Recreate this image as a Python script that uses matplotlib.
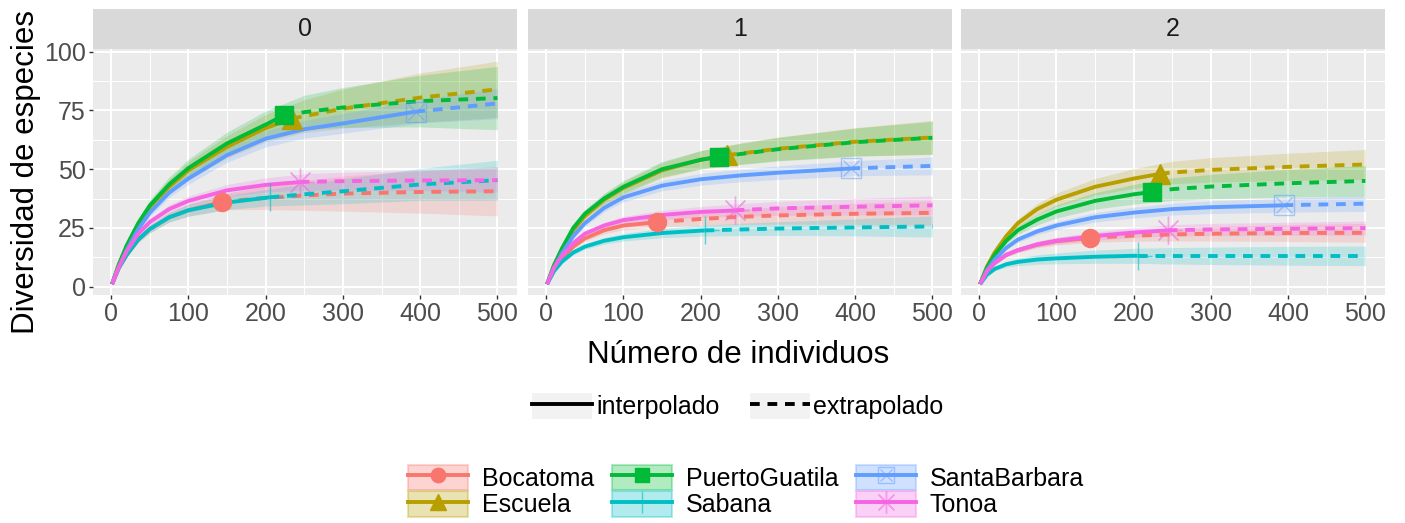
import matplotlib
matplotlib.use("Agg")
import matplotlib.pyplot as plt
from matplotlib.patches import Patch
from matplotlib.lines import Line2D
import numpy as np

plt.rcParams['font.family'] = ['Liberation Sans', 'DejaVu Sans']

# sample sizes (m) where the curves were read
X = [1, 10, 20, 35, 50, 75, 100, 150, 200, 250, 300, 400, 500]

sites = ["Bocatoma", "Escuela", "PuertoGuatila", "Sabana", "SantaBarbara", "Tonoa"]
colors = ["#F8766D", "#B79F00", "#00BA38", "#00BFC4", "#619CFF", "#F564E3"]

# reference sample size of each site
n_ref = [143, 234, 224, 205, 394, 244]

# observed diversity at n_ref, one list per order q
obs_q0 = [36, 71.5, 73, 38, 74.5, 44.5]
obs_q1 = [27.4, 56, 55.3, 23.9, 50.3, 32.4]
obs_q2 = [20.7, 48, 40.3, 13.1, 34.6, 23.9]

# estimated curves at X (q = 0)
est_q0 = {
    "Bocatoma":      [1, 8, 13.5, 20, 24.5, 29.5, 32.5, 36.3, 37.8, 38.8, 39.6, 40.3, 40.6],
    "Escuela":       [1, 9.5, 17, 26.5, 34, 42.5, 49.5, 59.5, 67.5, 72.6, 75.8, 80.5, 84],
    "PuertoGuatila": [1, 9.5, 17.5, 27, 34.5, 43.5, 50.5, 61, 69, 74.3, 76.3, 79, 80.3],
    "Sabana":        [1, 8, 13.5, 20, 24.5, 29.5, 32.5, 35.8, 37.8, 39.3, 40.6, 43.5, 45.3],
    "SantaBarbara":  [1, 8.5, 15.5, 24.5, 31.5, 40, 46, 56, 63, 67, 69.5, 74.7, 78],
    "Tonoa":         [1, 8.5, 15, 22.5, 27.5, 33, 36.5, 41, 43.3, 44.6, 44.9, 45.2, 45.3],
}
ci_q0 = {
    "Bocatoma":      [0, 0.4, 0.8, 1.2, 1.6, 2, 2.5, 3.5, 5, 6.3, 7.5, 9, 10.5],
    "Escuela":       [0, 0.6, 1.2, 2, 2.5, 3.2, 3.8, 4.8, 5.8, 7, 8.3, 10.5, 12],
    "PuertoGuatila": [0, 0.6, 1.2, 2, 2.5, 3.2, 3.8, 4.8, 5.8, 7.2, 8.5, 11, 13.5],
    "Sabana":        [0, 0.4, 0.8, 1.2, 1.6, 2, 2.5, 3, 3.5, 4.5, 5.3, 6.8, 8.5],
    "SantaBarbara":  [0, 0.4, 0.8, 1.2, 1.6, 2, 2.4, 3, 3.5, 3.8, 4.2, 5, 6.5],
    "Tonoa":         [0, 0.4, 0.8, 1.2, 1.5, 1.8, 2, 2.5, 3, 3.5, 3.8, 4.3, 5],
}

# q = 1
est_q1 = {
    "Bocatoma":      [1, 7.5, 12, 17, 20.5, 24, 26, 27.6, 28.8, 29.7, 30.3, 31, 31.4],
    "Escuela":       [1, 9, 15.5, 24, 30, 37, 42, 49.5, 54, 56.6, 58.7, 61.7, 63.5],
    "PuertoGuatila": [1, 9, 16, 25, 31, 37.5, 42.5, 50, 54, 56.4, 58.5, 61.5, 63.4],
    "Sabana":        [1, 6.5, 10.5, 14.5, 17, 19.5, 21, 22.8, 23.8, 24.3, 24.7, 25.2, 25.6],
    "SantaBarbara":  [1, 8, 14, 21.5, 27, 33.5, 38, 43, 45.7, 47.3, 48.5, 50.4, 51.4],
    "Tonoa":         [1, 8, 13, 18.5, 22.5, 26, 28.3, 30.5, 31.8, 32.6, 33.3, 34, 34.6],
}
ci_q1 = {
    "Bocatoma":      [0, 0.3, 0.6, 0.9, 1.2, 1.5, 1.8, 2.2, 2.7, 3.2, 3.7, 4.5, 5.2],
    "Escuela":       [0, 0.5, 0.9, 1.4, 1.8, 2.3, 2.7, 3.3, 3.9, 4.5, 5, 6, 7.3],
    "PuertoGuatila": [0, 0.5, 0.9, 1.4, 1.8, 2.3, 2.7, 3.3, 3.9, 4.5, 5, 6, 7],
    "Sabana":        [0, 0.3, 0.6, 0.9, 1.1, 1.4, 1.6, 2, 2.3, 2.6, 2.9, 3.6, 4.5],
    "SantaBarbara":  [0, 0.4, 0.7, 1, 1.3, 1.6, 1.9, 2.2, 2.5, 2.7, 2.9, 3.2, 3.8],
    "Tonoa":         [0, 0.3, 0.6, 0.9, 1.1, 1.4, 1.6, 2, 2.3, 2.7, 3, 3.5, 4],
}

# q = 2
est_q2 = {
    "Bocatoma":      [1, 6.5, 10, 13.5, 15.5, 17.8, 19.3, 20.9, 21.7, 22.2, 22.5, 22.8, 22.9],
    "Escuela":       [1, 8.5, 14.5, 21.5, 27, 33, 37, 42.5, 46, 48.6, 49.7, 51, 52],
    "PuertoGuatila": [1, 8, 13.5, 19.5, 24, 28.5, 32, 36.5, 39.3, 41.5, 42.6, 44, 45],
    "Sabana":        [1, 5, 7.5, 9.5, 10.5, 11.5, 12, 12.7, 13.1, 13.1, 13.1, 13.1, 13.1],
    "SantaBarbara":  [1, 7, 11.5, 16.5, 20, 23.5, 26, 29.5, 31.5, 33, 33.8, 34.7, 35.3],
    "Tonoa":         [1, 6.5, 10, 13.5, 15.5, 18, 19.5, 21.5, 23, 24, 24.3, 24.6, 24.9],
}
ci_q2 = {
    "Bocatoma":      [0, 0.3, 0.5, 0.8, 1, 1.3, 1.6, 2, 2.4, 2.8, 3.1, 3.6, 4],
    "Escuela":       [0, 0.5, 0.9, 1.4, 1.8, 2.3, 2.8, 3.5, 4.2, 4.8, 5.2, 5.8, 6.4],
    "PuertoGuatila": [0, 0.5, 0.9, 1.4, 1.8, 2.3, 2.8, 3.5, 4.2, 4.8, 5.2, 5.9, 6.5],
    "Sabana":        [0, 0.4, 0.8, 1.2, 1.6, 2, 2.3, 2.8, 3.2, 3.5, 3.7, 4, 4.2],
    "SantaBarbara":  [0, 0.3, 0.6, 0.9, 1.2, 1.4, 1.7, 2, 2.3, 2.5, 2.7, 3, 3.3],
    "Tonoa":         [0, 0.3, 0.5, 0.8, 1, 1.2, 1.5, 1.8, 2.1, 2.4, 2.6, 2.8, 3],
}

orders = ["0", "1", "2"]
est_all = [est_q0, est_q1, est_q2]
ci_all = [ci_q0, ci_q1, ci_q2]
obs_all = [obs_q0, obs_q1, obs_q2]

# marker styles (ggplot shapes 16, 17, 15, 3, 7, 8)
markers = [
    [dict(marker='o', ms=13)],
    [dict(marker='^', ms=15)],
    [dict(marker='s', ms=13)],
    [dict(marker='+', ms=20, mew=1.0, alpha=0.6)],
    [dict(marker='s', ms=15, mfc='none', mew=1.0, alpha=0.5),
     dict(marker='x', ms=11, mew=1.0, alpha=0.5)],
    [dict(marker=(8, 2, 0), ms=20, mew=1.0, alpha=0.5)],
]

W, H = 1405, 523
fig = plt.figure(figsize=(W / 100, H / 100), dpi=100)

lefts = [92.7, 527.7, 960.7]
pw = 424
bot, top, strip_top = 295, 49, 8.5
LW = 2.8
DASH = (2.5, 2.0)

for k, q in enumerate(orders):
    ax = fig.add_axes([lefts[k] / W, 1 - bot / H, pw / W, (bot - top) / H])
    ax.set_facecolor('#EBEBEB')
    for s in ax.spines.values():
        s.set_visible(False)
    ax.set_xlim(-24, 525)
    ax.set_ylim(-3.6, 101.2)
    ax.set_xticks([0, 100, 200, 300, 400, 500])
    ax.set_yticks([0, 25, 50, 75, 100])
    ax.set_xticks([50, 150, 250, 350, 450], minor=True)
    ax.set_yticks([12.5, 37.5, 62.5, 87.5], minor=True)
    ax.grid(which='major', color='white', lw=1.4)
    ax.grid(which='minor', color='white', lw=0.7)
    ax.set_axisbelow(True)
    ax.tick_params(which='minor', length=0)
    ax.tick_params(which='major', length=3, width=1, color='#333333',
                   labelsize=18, labelcolor='#4D4D4D', pad=2)
    if k > 0:
        ax.tick_params(axis='y', left=False, labelleft=False)

    est, ci, obs = est_all[k], ci_all[k], obs_all[k]
    for i, site in enumerate(sites):
        c = colors[i]
        e = np.array(est[site])
        w = np.array(ci[site])
        ax.fill_between(X, e - w, e + w, color=c, alpha=0.2, lw=0, zorder=1)
    for i, site in enumerate(sites):
        c = colors[i]
        n = n_ref[i]
        e = est[site]
        pre = [j for j, x in enumerate(X) if x < n]
        post = [j for j, x in enumerate(X) if x > n]
        ax.plot([X[j] for j in pre] + [n], [e[j] for j in pre] + [obs[i]],
                color=c, lw=LW, solid_capstyle='butt', zorder=3)
        ax.plot([n] + [X[j] for j in post], [obs[i]] + [e[j] for j in post],
                color=c, lw=LW, dashes=DASH, zorder=3)
        for m in markers[i]:
            ax.plot([n], [obs[i]], color=c, ls='none', zorder=4, **m)

    sax = fig.add_axes([lefts[k] / W, 1 - top / H, pw / W, (top - strip_top) / H])
    sax.set_facecolor('#D9D9D9')
    sax.set_xticks([])
    sax.set_yticks([])
    for s in sax.spines.values():
        s.set_visible(False)
    sax.text(0.5, 0.5, q, ha='center', va='center', fontsize=18,
             color='#1A1A1A', transform=sax.transAxes)

fig.text(26 / W, 1 - 172 / H, "Diversidad de especies", rotation=90,
         ha='center', va='center', fontsize=22.5)
fig.text(738.5 / W, 1 - 355 / H, "Número de individuos",
         ha='center', va='center', fontsize=22.5)

# linetype legend
key_bg = '#F2F2F2'
lt_handles = [
    (Patch(fc=key_bg, ec='none'), Line2D([], [], color='black', lw=LW)),
    (Patch(fc=key_bg, ec='none'), Line2D([], [], color='black', lw=LW, dashes=DASH)),
]
fig.legend(lt_handles, ["interpolado", "extrapolado"], loc='center',
           bbox_to_anchor=(738 / W, 1 - 406 / H), ncol=2, frameon=False,
           fontsize=18, handlelength=2.4, handleheight=1.25,
           handletextpad=0.15, columnspacing=1.2, borderaxespad=0)

# site legend (markers a bit smaller inside the keys)
site_handles = []
for i, site in enumerate(sites):
    c = colors[i]
    h = [Patch(fc=c, ec=c, alpha=0.3, lw=1.5), Line2D([], [], color=c, lw=LW)]
    for m in markers[i]:
        mm = dict(m)
        mm['ms'] = mm['ms'] * 0.8
        h.append(Line2D([], [], color=c, ls='none', **mm))
    site_handles.append(tuple(h))
fig.legend(site_handles, sites, loc='center', bbox_to_anchor=(746 / W, 1 - 491 / H),
           ncol=3, frameon=False, fontsize=18, handlelength=2.4, handleheight=1.2,
           labelspacing=0, handletextpad=0.56, columnspacing=0.7,
           borderaxespad=0, numpoints=1)

fig.savefig("out.png", dpi=100)
